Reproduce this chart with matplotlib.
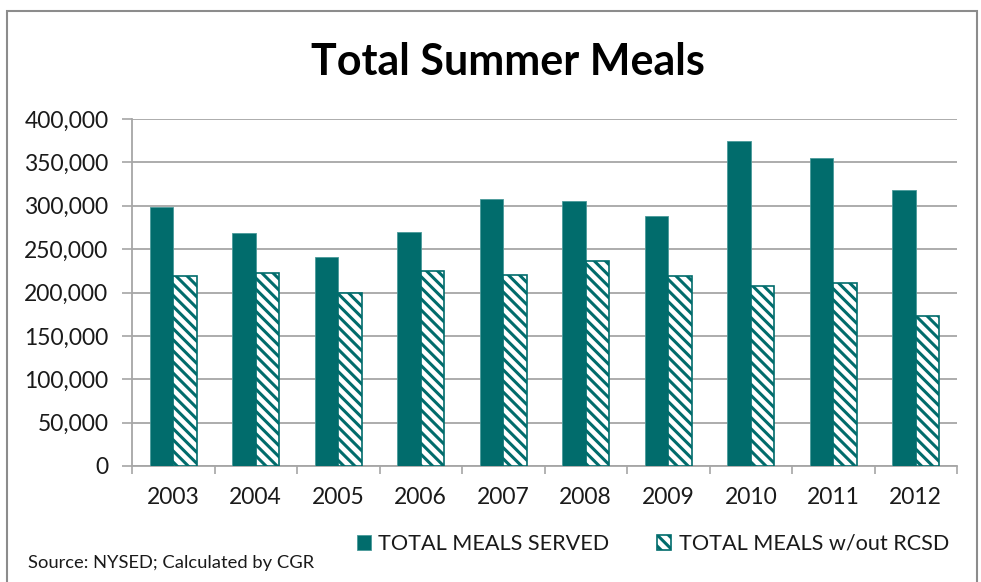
import numpy as np
import matplotlib
matplotlib.use("Agg")
import matplotlib.pyplot as plt
from matplotlib.patches import Rectangle
from matplotlib.ticker import FuncFormatter, MultipleLocator

# ── Data ────────────────────────────────────────────────────────────────────
YEARS        = ["2003", "2004", "2005", "2006", "2007",
                "2008", "2009", "2010", "2011", "2012"]
MEALS_SERVED = [299000, 269000, 240500, 270000, 308000,
                306000, 288500, 375000, 355000, 318000]
MEALS_NO_RCSD = [219500, 223000, 199500, 225000, 220500,
                 236000, 219500, 208000, 211500, 173000]

SERIES_LABELS = ["TOTAL MEALS SERVED", "TOTAL MEALS w/out RCSD"]
TITLE  = "Total Summer Meals"
SOURCE = "Source: NYSED; Calculated by CGR"

# ── Style ───────────────────────────────────────────────────────────────────
TEAL  = "#016C6C"
GRID  = "#A6A6A6"
TEXT  = "#1A1A1A"
FONT  = ["Lato", "DejaVu Sans"]

plt.rcParams["font.family"] = FONT
plt.rcParams["hatch.linewidth"] = 2.2
plt.rcParams["hatch.color"] = TEAL

fig = plt.figure(figsize=(9.81, 5.82), dpi=100)
ax = fig.add_axes([132 / 981, 1 - 466 / 582, 825 / 981, 347 / 582])

x = np.arange(len(YEARS))
w = 0.285
b1 = ax.bar(x - w / 2, MEALS_SERVED, w, color=TEAL, edgecolor="#4A9A9A",
            linewidth=0.6, label=SERIES_LABELS[0], zorder=3)
b2 = ax.bar(x + w / 2, MEALS_NO_RCSD, w, color="white", edgecolor=TEAL,
            hatch="\\\\\\", linewidth=1.2, label=SERIES_LABELS[1], zorder=3)

ax.set_xlim(-0.5, len(YEARS) - 0.5)
ax.set_ylim(0, 400000)
ax.yaxis.set_major_locator(MultipleLocator(50000))
ax.yaxis.set_major_formatter(FuncFormatter(lambda v, _: f"{int(v):,}"))
ax.grid(axis="y", color=GRID, linewidth=1.3, zorder=0)
ax.set_axisbelow(True)

ax.set_xticks(x)
ax.set_xticklabels(YEARS)
ax.set_xticks(np.arange(len(YEARS) + 1) - 0.5, minor=True)
ax.tick_params(axis="x", which="major", length=0, pad=15, labelsize=16.5,
               labelcolor=TEXT)
ax.tick_params(axis="x", which="minor", length=6, width=1.2, color=GRID)
ax.tick_params(axis="y", length=7, width=1.2, color=GRID, pad=10,
               labelsize=16.5, labelcolor=TEXT)

for side in ("top", "right"):
    ax.spines[side].set_visible(False)
for side in ("left", "bottom"):
    ax.spines[side].set_color(GRID)
    ax.spines[side].set_linewidth(1.3)

fig.text(508 / 981, 1 - 62 / 582, TITLE, ha="center", va="center",
         fontsize=31, fontweight="bold", color="black")

fig.legend(handles=[b1, b2], labels=SERIES_LABELS, loc="center",
           bbox_to_anchor=(653 / 981, 1 - 544 / 582), ncol=2, frameon=False,
           fontsize=15.6, handlelength=0.65, handleheight=0.65,
           handletextpad=0.35, columnspacing=2.2, labelcolor=TEXT)

fig.text(28 / 981, 1 - 563 / 582, SOURCE, ha="left", va="center",
         fontsize=13.2, color=TEXT)

# chart-area border
fig.patches.append(Rectangle((7 / 981, -0.05), 970 / 981, 1 - 11 / 582 + 0.05,
                             transform=fig.transFigure, fill=False,
                             edgecolor="#8C8C8C", linewidth=1.5))

fig.savefig("out.png", dpi=100)
